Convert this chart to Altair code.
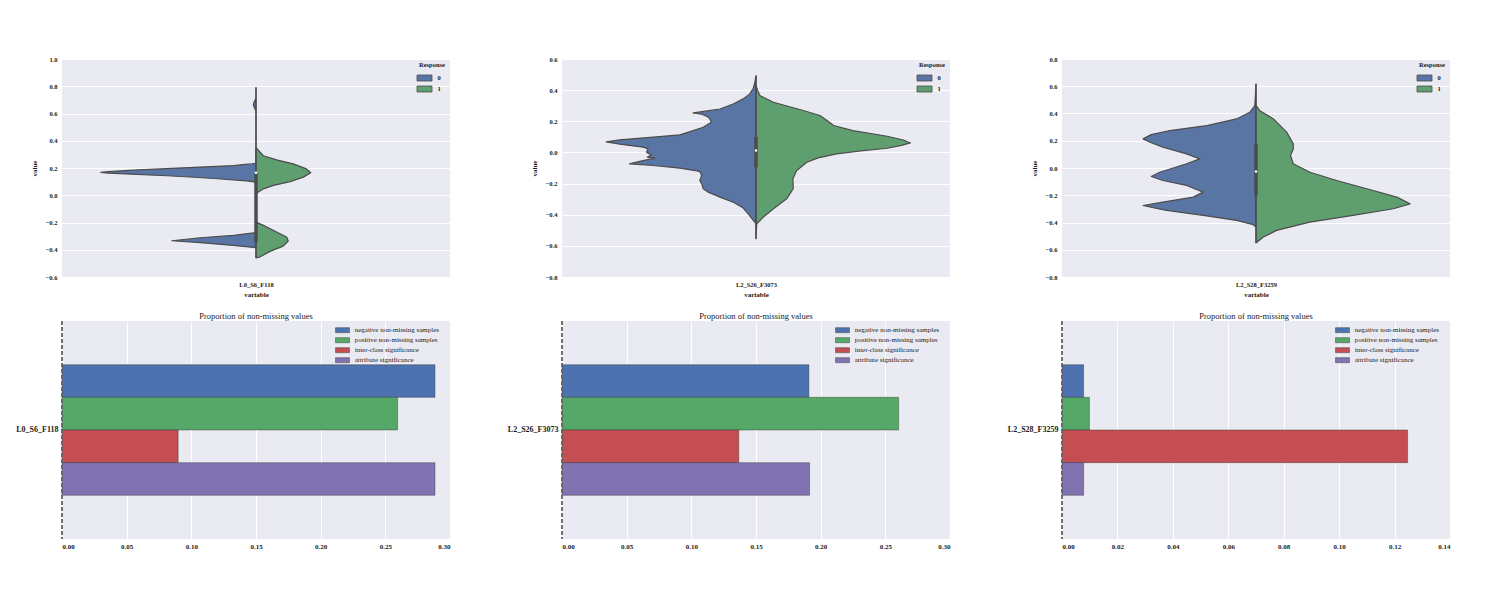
import pandas as pd
import altair as alt

FONT = "Liberation Serif"
TXT = "#1a1a1a"
BG = "#EAEAF2"
EDGE = "#4c4c4c"

features = ["L0_S6_F118", "L2_S26_F3073", "L2_S28_F3259"]
response_colors = ["#5875a4", "#5f9e6e"]

# violin halves: value, half width (category units)
f118_v0 = [0.79, 0.712, 0.69, 0.663, 0.64, 0.621, 0.30, 0.235, 0.231, 0.226, 0.218, 0.201,
           0.184, 0.174, 0.168, 0.162, 0.155, 0.143, 0.132, 0.121, 0.106, 0.096,
           -0.275, -0.295, -0.312, -0.334, -0.348, -0.368, -0.385]
f118_w0 = [0.0, 0.0, 0.004, 0.007, 0.004, 0.0, 0.0, 0.0, 0.01, 0.028, 0.058, 0.187,
           0.317, 0.38, 0.40, 0.38, 0.32, 0.23, 0.16, 0.10, 0.025, 0.0,
           0.0, 0.058, 0.144, 0.217, 0.144, 0.058, 0.0]
f118_v1 = [0.35, 0.29, 0.26, 0.23, 0.194, 0.165, 0.133, 0.10, 0.072, 0.047, 0.023, 0.011,
           -0.197, -0.221, -0.27, -0.307, -0.336, -0.373, -0.412, -0.453, -0.46]
f118_w1 = [0.0, 0.019, 0.053, 0.096, 0.13, 0.141, 0.122, 0.088, 0.045, 0.019, 0.006, 0.0,
           0.0, 0.019, 0.053, 0.079, 0.083, 0.07, 0.036, 0.01, 0.0]

f3073_v0 = [0.493, 0.45, 0.412, 0.376, 0.344, 0.311, 0.279, 0.265, 0.254, 0.245, 0.23, 0.215,
            0.194, 0.162, 0.14, 0.113, 0.098, 0.081, 0.068, 0.053, 0.034, 0.023, 0.002,
            -0.016, -0.03, -0.037, -0.058, -0.073, -0.084, -0.101, -0.122, -0.148, -0.18,
            -0.2, -0.233, -0.255, -0.287, -0.319, -0.357, -0.394, -0.436, -0.458]
f3073_w0 = [0.0, 0.003, 0.007, 0.016, 0.033, 0.059, 0.093, 0.13, 0.162, 0.14, 0.125, 0.119,
            0.115, 0.136, 0.162, 0.196, 0.265, 0.351, 0.386, 0.351, 0.291, 0.278, 0.282,
            0.27, 0.28, 0.261, 0.30, 0.326, 0.265, 0.196, 0.145, 0.14, 0.145,
            0.14, 0.136, 0.123, 0.093, 0.059, 0.033, 0.02, 0.007, 0.0]
f3073_v1 = [0.43, 0.40, 0.365, 0.322, 0.269, 0.237, 0.205, 0.173, 0.14, 0.104, 0.08, 0.061,
            0.045, 0.027, 0.01, -0.009, -0.035, -0.063, -0.116, -0.169, -0.233, -0.298,
            -0.362, -0.415, -0.458, -0.554]
f3073_w1 = [0.0, 0.004, 0.01, 0.045, 0.122, 0.165, 0.183, 0.2, 0.25, 0.338, 0.38, 0.398,
            0.375, 0.338, 0.27, 0.208, 0.16, 0.131, 0.105, 0.095, 0.096, 0.079,
            0.045, 0.019, 0.002, 0.0]

f3259_v0 = [0.617, 0.458, 0.409, 0.36, 0.311, 0.275, 0.245, 0.214, 0.185, 0.153, 0.104, 0.067,
            0.031, -0.031, -0.062, -0.092, -0.128, -0.177, -0.214, -0.25, -0.275, -0.30,
            -0.311, -0.348, -0.385, -0.416, -0.434]
f3259_w0 = [0.0, 0.003, 0.016, 0.05, 0.127, 0.222, 0.27, 0.291, 0.27, 0.24, 0.179, 0.145,
            0.179, 0.248, 0.27, 0.24, 0.179, 0.136, 0.162, 0.24, 0.291, 0.25,
            0.23, 0.136, 0.05, 0.007, 0.0]
f3259_v1 = [0.458, 0.421, 0.36, 0.263, 0.177, 0.14, 0.092, 0.031, -0.031, -0.092, -0.165,
            -0.214, -0.263, -0.299, -0.348, -0.397, -0.458, -0.507, -0.543, -0.55]
f3259_w1 = [0.0, 0.01, 0.045, 0.079, 0.096, 0.096, 0.089, 0.096, 0.139, 0.208, 0.302,
            0.363, 0.397, 0.354, 0.25, 0.139, 0.053, 0.019, 0.003, 0.0]

# inner box: whisker low, whisker high, q1, q3, median
f118_box = [-0.46, 0.79, -0.345, 0.16, 0.165]
f3073_box = [-0.554, 0.493, -0.095, 0.098, 0.012]
f3259_box = [-0.55, 0.617, -0.2, 0.177, -0.026]

f118_yticks = [-0.6, -0.4, -0.2, 0.0, 0.2, 0.4, 0.6, 0.8, 1.0]
f3073_yticks = [-0.8, -0.6, -0.4, -0.2, 0.0, 0.2, 0.4, 0.6]
f3259_yticks = [-0.8, -0.6, -0.4, -0.2, 0.0, 0.2, 0.4, 0.6, 0.8]

bar_series = ["negative non-missing samples", "positive non-missing samples",
              "inter-class significance", "attribute significance"]
bar_colors = ["#4C72B0", "#55A868", "#C44E52", "#8172B2"]
f118_bars = [0.2884, 0.2595, 0.0898, 0.2884]
f3073_bars = [0.1909, 0.2603, 0.1367, 0.1914]
f3259_bars = [0.0078, 0.0099, 0.1247, 0.0078]
wide_xticks = [0.0, 0.05, 0.10, 0.15, 0.20, 0.25, 0.30]
narrow_xticks = [0.0, 0.02, 0.04, 0.06, 0.08, 0.10, 0.12, 0.14]

W, H = 388, 218
VIOLIN_KEY = "M-1.5,-0.6L1.5,-0.6L1.5,0.6L-1.5,0.6Z"
BAR_KEY = "M-1.4,-0.5L1.4,-0.5L1.4,0.5L-1.4,0.5Z"


def violin(feat, v0, w0, v1, w1, stats, ydom, yticks):
    shape = pd.DataFrame({
        "value": v0 + v1,
        "half": [-w for w in w0] + w1,
        "Response": ["0"] * len(v0) + ["1"] * len(v1),
    })
    box = pd.DataFrame([dict(zip(["lo", "hi", "q1", "q3", "med"], stats))])
    ysc = alt.Scale(domain=ydom, nice=False, zero=False)
    yax = alt.Axis(values=yticks, format=".1f", title="value", labelFontSize=6.5,
                   titleFontSize=7, labelPadding=5, titlePadding=8)
    area = alt.Chart(shape).mark_area(orient="horizontal", stroke=EDGE, strokeWidth=1.2,
                                      opacity=1, strokeJoin="round").encode(
        y=alt.Y("value:Q", scale=ysc, axis=yax),
        x=alt.X("half:Q", stack=None, scale=alt.Scale(domain=[-0.5, 0.5], nice=False, zero=False),
                axis=alt.Axis(values=[0], labelExpr=f"'{feat}'", title="variable", grid=False,
                              labelFontSize=6.5, titleFontSize=7, labelPadding=4, titlePadding=3)),
        x2=alt.datum(0),
        color=alt.Color("Response:N", scale=alt.Scale(domain=["0", "1"], range=response_colors),
                        legend=alt.Legend(title="Response", orient="none", legendX=357, legendY=3,
                                          symbolType=VIOLIN_KEY, symbolSize=100,
                                          symbolStrokeColor=EDGE, symbolStrokeWidth=0.8,
                                          symbolOpacity=1, labelOffset=7.5, rowPadding=0,
                                          titlePadding=4, padding=0, labelFontSize=6.5,
                                          titleFontSize=6.5, labelFontWeight="bold",
                                          titleFontWeight="bold")),
    )
    whisker = alt.Chart(box).mark_rule(color=EDGE, strokeWidth=1.3).encode(
        x=alt.datum(0), y=alt.Y("lo:Q", scale=ysc, axis=yax), y2="hi:Q")
    iqr = alt.Chart(box).mark_rule(color=EDGE, strokeWidth=3.5).encode(
        x=alt.datum(0), y=alt.Y("q1:Q", scale=ysc, axis=yax), y2="q3:Q")
    med = alt.Chart(box).mark_point(filled=True, color="white", size=6, opacity=1).encode(
        x=alt.datum(0), y=alt.Y("med:Q", scale=ysc, axis=yax))
    return alt.layer(area, whisker, iqr, med).properties(width=W, height=H)


def bars(feat, vals, xmax, xticks):
    df = pd.DataFrame({"feature": [feat] * len(vals), "series": bar_series, "prop": vals})
    base = alt.Chart(df)
    b = base.mark_bar(stroke="#333333", strokeWidth=0.7, strokeOpacity=0.6, opacity=1).encode(
        x=alt.X("prop:Q", scale=alt.Scale(domain=[0, xmax], nice=False),
                axis=alt.Axis(values=xticks, format=".2f", title=None, labelFontSize=7, labelPadding=3)),
        y=alt.Y("feature:N", scale=alt.Scale(paddingInner=0, paddingOuter=0.335),
                axis=alt.Axis(title=None, labelFontSize=8, labelPadding=4, bandPosition=0.5)),
        yOffset=alt.YOffset("series:N", sort=bar_series, scale=alt.Scale(paddingInner=0, paddingOuter=0)),
        color=alt.Color("series:N", sort=bar_series,
                        scale=alt.Scale(domain=bar_series, range=bar_colors),
                        legend=alt.Legend(title=None, orient="none", legendX=275, legendY=3.7,
                                          symbolType=BAR_KEY, symbolSize=100,
                                          symbolStrokeColor="#555555", symbolStrokeWidth=0.6,
                                          symbolOpacity=1, labelOffset=6.7, rowPadding=0,
                                          padding=0, labelFontSize=7, labelFontWeight="normal")),
    )
    zero = base.mark_rule(color="#666666", strokeWidth=1, strokeDash=[4, 2]).encode(x=alt.datum(0))
    return alt.layer(b, zero).properties(
        width=W, height=H,
        title=alt.TitleParams("Proportion of non-missing values", fontSize=8.5,
                              fontWeight="normal", offset=0, anchor="middle"))


panels = [
    violin(features[0], f118_v0, f118_w0, f118_v1, f118_w1, f118_box, [-0.6, 1.0], f118_yticks),
    violin(features[1], f3073_v0, f3073_w0, f3073_v1, f3073_w1, f3073_box, [-0.8, 0.6], f3073_yticks),
    violin(features[2], f3259_v0, f3259_w0, f3259_v1, f3259_w1, f3259_box, [-0.8, 0.8], f3259_yticks),
    bars(features[0], f118_bars, 0.30, wide_xticks),
    bars(features[1], f3073_bars, 0.30, wide_xticks),
    bars(features[2], f3259_bars, 0.14, narrow_xticks),
]

chart = alt.concat(*panels, columns=3, spacing={"row": 44, "column": 112}, bounds="flush")
chart = chart.resolve_scale(color="independent").resolve_legend(color="independent")
chart = chart.properties(padding={"left": 7, "top": 48, "right": 5, "bottom": 5})
chart = chart.configure_view(fill=BG, stroke=None)
chart = chart.configure_axis(domain=False, ticks=False, gridColor="white", gridWidth=1,
                             labelFont=FONT, titleFont=FONT, labelFontWeight="bold",
                             titleFontWeight="bold", labelColor=TXT, titleColor=TXT)
chart = chart.configure_legend(labelFont=FONT, titleFont=FONT, labelColor=TXT, titleColor=TXT)
chart = chart.configure_title(font=FONT, color=TXT)

chart.save("out.html", embed_options={"renderer": "svg", "actions": False})
